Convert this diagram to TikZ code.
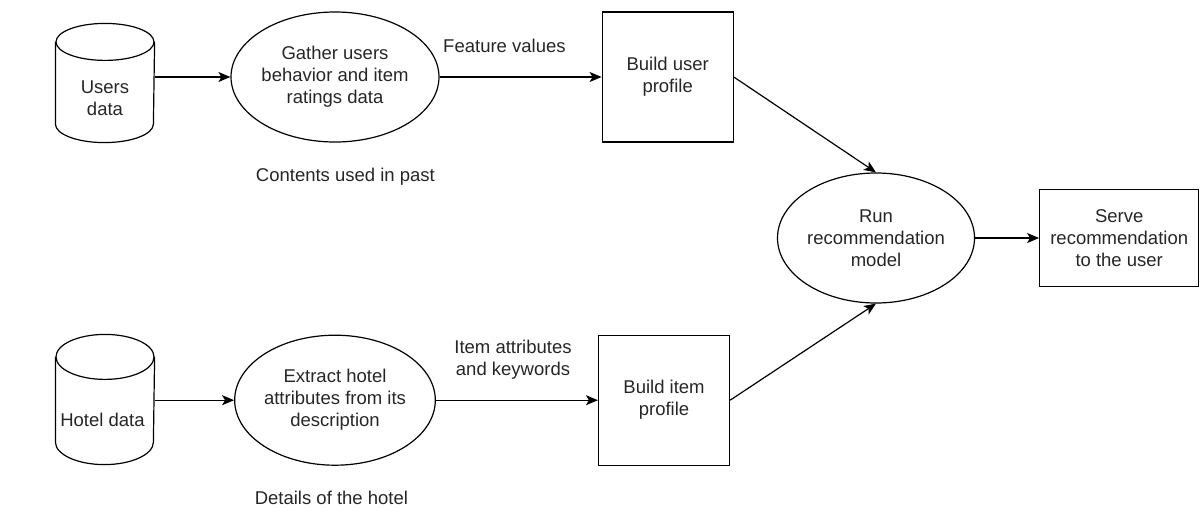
\documentclass[tikz,border=0pt]{standalone}
\usepackage{fontspec}
\setmainfont{Liberation Sans}
\usetikzlibrary{positioning, shapes.geometric, arrows.meta}

\begin{document}
\begin{tikzpicture}[x = 1pt, y = -1pt, line width = 1.2pt,
    every node/.style = { align = center, inner sep = 0pt, text = black!85,
      font = \fontsize{18.5}{22}\selectfont },
    dbbox/.style = { shape = rectangle, minimum width = 98pt },
    proc/.style = { draw, shape = ellipse, minimum width = 198pt, minimum height = 130pt },
    stepbox/.style = { draw, shape = rectangle, minimum width = 131pt, minimum height = 130pt },
    flow/.style = { -{Stealth[length = 12pt, width = 10pt, inset = 3pt]} }]
  \useasboundingbox (0,0) rectangle (1200,509);

  % user side
  \node [dbbox, minimum height = 118pt] (usersdb) at (105,83) {};
  \node (userstxt) at ([yshift = -15pt] usersdb.center) { Users \\ data };
  \node [proc] (gather) at (335,77) { Gather users \\ behavior and item \\ ratings data };
  \node [stepbox, right = 162pt of gather] (userprof) { Build user \\ profile };

  % hotel side
  \node [dbbox, minimum height = 129pt] (hoteldb) at (105,399.5) {};
  \node (hoteltxt) at ([yshift = -20pt] hoteldb.center) { Hotel data };
  \node [proc, below = 192pt of gather] (extract) { Extract hotel \\ attributes from its \\ description };
  \node [stepbox, right = 162pt of extract] (itemprof) { Build item \\ profile };

  % model and output
  \node [proc, minimum width = 197pt] (runmodel) at (876,238) { Run \\ recommendation \\ model };
  \node [stepbox, minimum width = 159pt, minimum height = 97pt, right = 64pt of runmodel] (serve)
    { Serve \\ recommendation \\ to the user };

  % free labels
  \node (featlbl) at (507,46) { Feature values };
  \node (attrlbl) at (513,360) { Item attributes \\ and keywords };
  \node (pastlbl) at (348,177) { Contents used in past };
  \node (detlbl) at (334,498) { Details of the hotel };

  % cylinders
  \foreach \db/\ry in {usersdb/18.5, hoteldb/22.5} {
    \draw ([yshift = -\ry pt] \db.north) ellipse [x radius = 49pt, y radius = \ry pt];
    \draw ([yshift = -\ry pt] \db.north west) -- ([yshift = \ry pt] \db.south west)
      arc [start angle = 180, end angle = 360, x radius = 49pt, y radius = \ry pt]
      -- ([yshift = -\ry pt] \db.north east);
  }

  \draw [flow] (usersdb.east |- gather.west) -- (gather.west);
  \draw [flow] (gather) -- (userprof);
  \draw [flow] (hoteldb.east |- extract.west) -- (extract.west);
  \draw [flow] (extract) -- (itemprof);
  \draw [flow] (userprof.east) -- (runmodel.north);
  \draw [flow] (itemprof.east) -- (runmodel.south);
  \draw [flow] (runmodel) -- (serve);
\end{tikzpicture}
\end{document}
